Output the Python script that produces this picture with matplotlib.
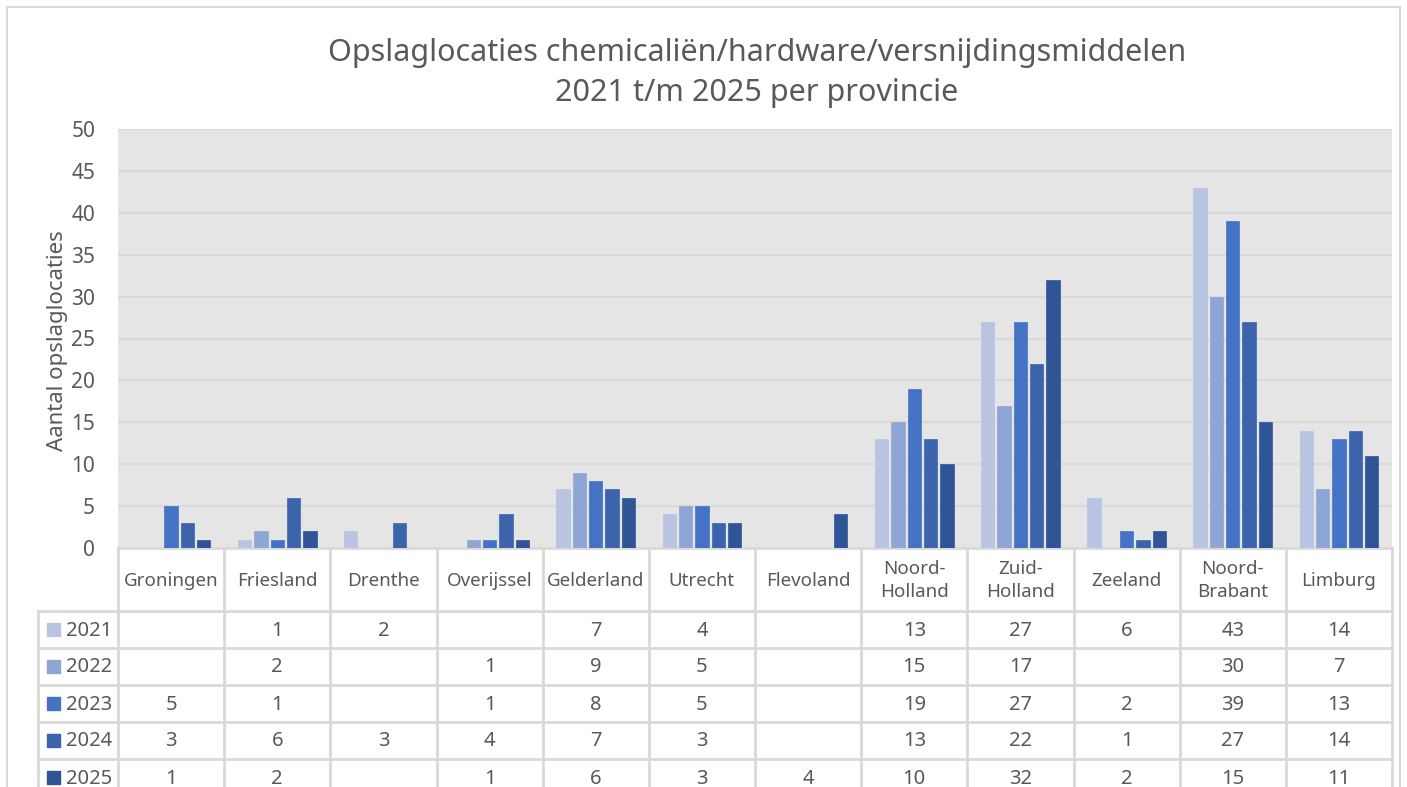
import matplotlib
matplotlib.use("Agg")
import matplotlib.pyplot as plt
from matplotlib.patches import Rectangle
from matplotlib.lines import Line2D

provinces = ["Groningen", "Friesland", "Drenthe", "Overijssel", "Gelderland", "Utrecht",
             "Flevoland", "Noord-\nHolland", "Zuid-\nHolland", "Zeeland", "Noord-\nBrabant", "Limburg"]
years = ["2021", "2022", "2023", "2024", "2025"]
v2021 = [None, 1, 2, None, 7, 4, None, 13, 27, 6, 43, 14]
v2022 = [None, 2, None, 1, 9, 5, None, 15, 17, None, 30, 7]
v2023 = [5, 1, None, 1, 8, 5, None, 19, 27, 2, 39, 13]
v2024 = [3, 6, 3, 4, 7, 3, None, 13, 22, 1, 27, 14]
v2025 = [1, 2, None, 1, 6, 3, 4, 10, 32, 2, 15, 11]
series = [v2021, v2022, v2023, v2024, v2025]
colors = ["#B9C4E3", "#8FA5D6", "#4472C4", "#3B64AD", "#2F5597"]

plt.rcParams["font.family"] = ["Noto Sans", "DejaVu Sans"]
txt = "#595959"
grid = "#D9D9D9"

W, H = 1407, 787
fig = plt.figure(figsize=(W / 100, H / 100), dpi=100)

def fx(x):
    return x / W

def fy(y):
    return 1 - y / H

# outer chart frame
fig.patches.append(Rectangle((fx(7), fy(800)), fx(1400) - fx(7), fy(7) - fy(800),
                             transform=fig.transFigure, fill=False, edgecolor=grid, lw=1.5))

left, right, top, bottom = 118, 1392, 129, 548
ax = fig.add_axes([fx(left), fy(bottom), fx(right) - fx(left), fy(top) - fy(bottom)])
ax.set_facecolor("#E5E5E5")
n = len(provinces)
step = 0.154
width = 0.125
for j, vals in enumerate(series):
    xs = [i + (j - 2) * step for i in range(n)]
    hs = [v if v is not None else 0 for v in vals]
    ax.bar(xs, hs, width=width, color=colors[j], edgecolor=colors[j], lw=0.5, zorder=3)

ax.set_xlim(-0.5, n - 0.5)
ax.set_ylim(0, 50)
ax.set_yticks(range(0, 51, 5))
ax.set_xticks([])
ax.tick_params(axis="y", length=0, pad=16.5, labelsize=15, labelcolor=txt)
ax.grid(axis="y", color=grid, lw=1.5, zorder=0)
for s in ["top", "right", "left"]:
    ax.spines[s].set_visible(False)
ax.spines["bottom"].set_color(grid)
ax.spines["bottom"].set_linewidth(2)

fig.text(fx(57), fy(341), "Aantal opslaglocaties", rotation=90, ha="center", va="center",
         fontsize=16, color=txt)

fig.text(fx(757), fy(73), "Opslaglocaties chemicaliën/hardware/versnijdingsmiddelen\n2021 t/m 2025 per provincie",
         ha="center", va="center", fontsize=22, color=txt, linespacing=1.4)

# data table below the plot
colw = (right - left) / n
rows_y = [611, 648, 685, 722, 759, 796]
tleft = 38
for k in range(n + 1):
    x = left + k * colw
    fig.add_artist(Line2D([fx(x), fx(x)], [fy(bottom), fy(800)], color=grid, lw=2))
fig.add_artist(Line2D([fx(tleft), fx(tleft)], [fy(rows_y[0]), fy(800)], color=grid, lw=2))
for y in rows_y[:-1]:
    fig.add_artist(Line2D([fx(tleft), fx(right)], [fy(y), fy(y)], color=grid, lw=2))

for i, p in enumerate(provinces):
    cx = left + (i + 0.5) * colw
    fig.text(fx(cx), fy((bottom + rows_y[0]) / 2 + 1), p, ha="center", va="center",
             fontsize=13.5, color=txt, linespacing=1.4)

for j, vals in enumerate(series):
    cy = (rows_y[j] + rows_y[j + 1]) / 2
    fig.patches.append(Rectangle((fx(47), fy(cy + 6.5)), fx(13), 13 / H,
                                 transform=fig.transFigure, color=colors[j]))
    fig.text(fx(66), fy(cy + 1), years[j], ha="left", va="center", fontsize=14.5, color=txt)
    for i, v in enumerate(vals):
        if v is not None:
            cx = left + (i + 0.5) * colw
            fig.text(fx(cx), fy(cy + 1), str(v), ha="center", va="center", fontsize=14.5, color=txt)

fig.savefig("out.png", dpi=100)
